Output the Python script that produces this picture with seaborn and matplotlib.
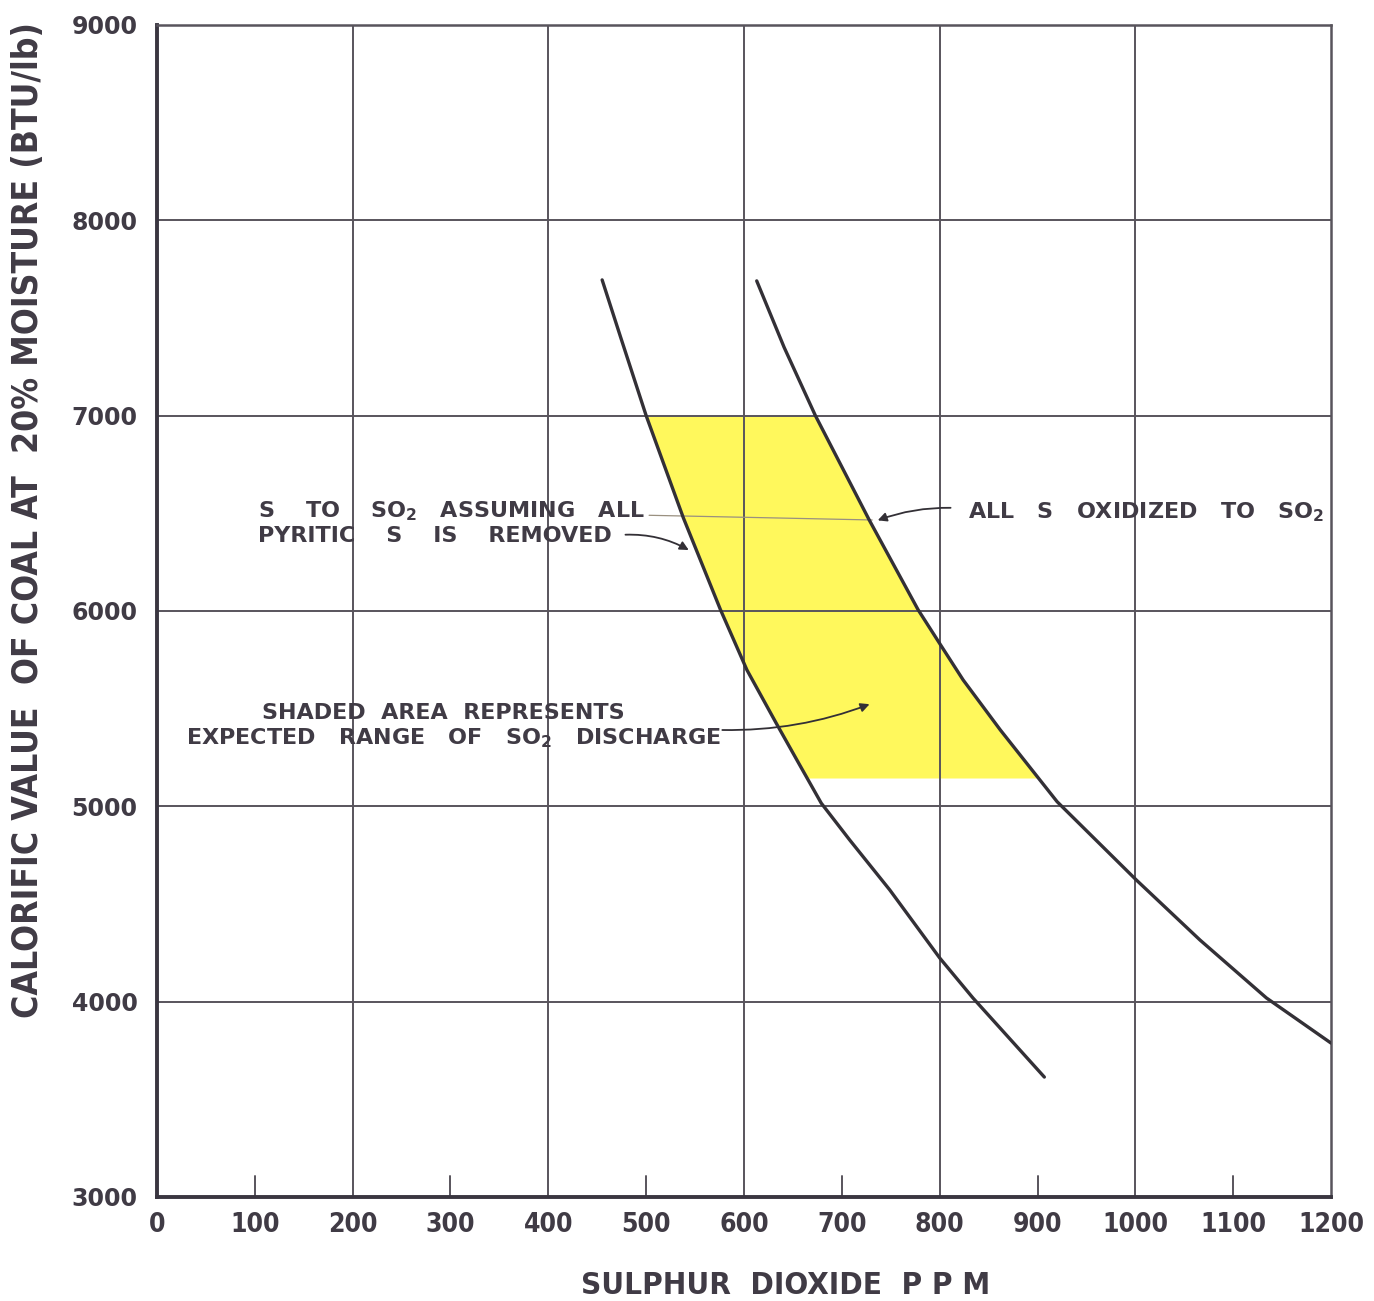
import matplotlib
matplotlib.use("Agg")
import matplotlib.pyplot as plt
import seaborn as sns
import numpy as np
import pandas as pd

# S to SO2 assuming all pyritic S is removed
removed_ppm = [455, 474, 500, 538, 576, 603, 633, 656, 679, 708, 749, 800, 834, 907]
removed_btu = [7695, 7400, 7000, 6477, 6006, 5698, 5425, 5220, 5016, 4828, 4572, 4224, 4019, 3614]

# all S oxidized to SO2
oxidized_ppm = [613, 641, 673, 728, 778, 802, 824, 862, 920, 1001, 1066, 1134, 1200]
oxidized_btu = [7690, 7350, 7000, 6466, 6006, 5818, 5647, 5391, 5024, 4623, 4316, 4019, 3788]

# expected range of SO2 discharge (calorific value band)
band_top = 7000
band_bottom = 5145

x_ticks = [0, 100, 200, 300, 400, 500, 600, 700, 800, 900, 1000, 1100, 1200]
x_tick_labels = ["0", "100", "200", "300", "400", "500", "600", "700", "800", "900", "1000", "1100", "1200"]
y_ticks = [3000, 4000, 5000, 6000, 7000, 8000, 9000]
y_tick_labels = ["3000", "4000", "5000", "6000", "7000", "8000", "9000"]

sns.set_theme(style="white")
plt.rcParams["font.family"] = ["DejaVu Sans"]
plt.rcParams["mathtext.fontset"] = "dejavusans"

INK = "#403b45"
LINE = "#333036"
GRID = "#58545c"
YELLOW = "#fff85c"

fig = plt.figure(figsize=(13.74, 13.01), dpi=100)
ax = fig.add_axes([157 / 1374, 1 - 1197 / 1301, (1331 - 157) / 1374, (1197 - 25) / 1301])

df_removed = pd.DataFrame({"ppm": removed_ppm, "btu": removed_btu})
df_oxidized = pd.DataFrame({"ppm": oxidized_ppm, "btu": oxidized_btu})

# shaded band between the two curves
yy = np.linspace(band_bottom, band_top, 200)
left_edge = np.interp(yy, removed_btu[::-1], removed_ppm[::-1])
right_edge = np.interp(yy, oxidized_btu[::-1], oxidized_ppm[::-1])
ax.fill_betweenx(yy, left_edge, right_edge, color=YELLOW, lw=0, zorder=0.5)

sns.lineplot(data=df_removed, x="ppm", y="btu", sort=False, estimator=None,
             color=LINE, lw=2.4, ax=ax, zorder=3)
sns.lineplot(data=df_oxidized, x="ppm", y="btu", sort=False, estimator=None,
             color=LINE, lw=2.4, ax=ax, zorder=3)

ax.set_xlim(0, 1200)
ax.set_ylim(3000, 9000)

# grid: every 200 ppm and every 1000 BTU
for gx in x_ticks[2:-1:2]:
    ax.axvline(gx, color=GRID, lw=1.4, zorder=1)
for gy in y_ticks[1:-1]:
    ax.axhline(gy, color=GRID, lw=1.4, zorder=1)

ax.set_xticks(x_ticks)
ax.set_xticklabels(x_tick_labels, fontweight="bold", fontstretch="condensed",
                   fontsize=19, color=INK)
ax.set_yticks(y_ticks)
ax.set_yticklabels(y_tick_labels, fontweight="bold", fontsize=17, color=INK)
ax.tick_params(axis="y", length=0, pad=14)
ax.tick_params(axis="x", length=0, pad=11)
# short inward ticks at the odd hundreds
for mx in x_ticks[1::2]:
    ax.plot([mx, mx], [3000, 3105], color=GRID, lw=1.4, zorder=1, clip_on=False)

for side in ["left", "bottom"]:
    ax.spines[side].set_linewidth(2.8)
    ax.spines[side].set_color("#3a3640")
for side in ["top", "right"]:
    ax.spines[side].set_linewidth(1.8)
    ax.spines[side].set_color(GRID)
ax.set_xlabel("")
ax.set_ylabel("")

fig.text(28 / 1374, 1 - 520 / 1301, "CALORIFIC VALUE  OF COAL AT  20% MOISTURE (BTU/lb)",
         rotation=90, ha="center", va="center", fontweight="bold", fontstretch="condensed",
         fontsize=25.5, color=INK)
fig.text(786 / 1374, 1 - 1285 / 1301, "SULPHUR  DIOXIDE  P P M",
         ha="center", va="center", fontweight="bold", fontstretch="condensed",
         fontsize=22.5, color=INK)

tkw = dict(fontweight="bold", fontsize=16, color=INK, va="center", ha="left", zorder=5)
ax.text(103, 6512, r"S    TO    SO$_\mathbf{2}$   ASSUMING   ALL", **tkw)
ax.text(103, 6385, "PYRITIC    S    IS    REMOVED", **tkw)
ax.text(107, 5478, "SHADED  AREA  REPRESENTS", **tkw)
ax.text(30, 5350, r"EXPECTED   RANGE   OF   SO$_\mathbf{2}$   DISCHARGE", **tkw)
ax.text(829, 6507, r"ALL   S   OXIDIZED   TO   SO$_\mathbf{2}$", **tkw)

# leaders
ax.plot([503, 731], [6490, 6466], color="#9a9080", lw=0.9, zorder=2)
akw = dict(arrowstyle="-|>", color=LINE, lw=1.3, mutation_scale=13)
ax.annotate("", xy=(546, 6305), xytext=(476, 6390),
            arrowprops=dict(connectionstyle="arc3,rad=-0.15", **akw), zorder=4)
ax.annotate("", xy=(734, 6459), xytext=(814, 6528),
            arrowprops=dict(connectionstyle="arc3,rad=0.1", **akw), zorder=4)
ax.annotate("", xy=(731, 5528), xytext=(575, 5391),
            arrowprops=dict(connectionstyle="arc3,rad=0.1", **akw), zorder=4)

fig.savefig("out.png", dpi=100, facecolor="white")
